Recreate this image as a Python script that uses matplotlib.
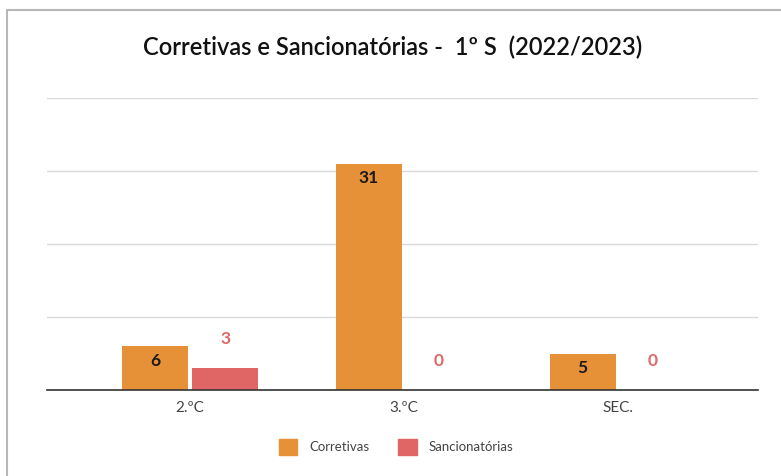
import matplotlib.pyplot as plt
import numpy as np
from matplotlib.patches import Rectangle, Patch

# ── Data ──────────────────────────────────────────────
categories    = ["2.ºC", "3.ºC", "SEC."]
corretivas    = [6, 31, 5]
sancionatorias = [3, 0, 0]
title = "Corretivas e Sancionatórias -  1º S  (2022/2023)"

ORANGE = "#e69138"
RED    = "#e06666"

plt.rcParams["font.family"] = ["Lato", "DejaVu Sans"]

fig = plt.figure(figsize=(7.81, 4.76), dpi=100)
W, H = 781, 476

# outer border (open on right/bottom, like the crop)
fig.patches.append(Rectangle((7 / W, -0.2), 1.2, 1.2 - 10 / H, transform=fig.transFigure,
                             fill=False, edgecolor="#b7b7b7", linewidth=1.5))

ax = fig.add_axes([47 / W, 1 - 390 / H, 711 / W, 292 / H])

x = np.arange(len(categories))
width = 0.308
off = 0.164

b1 = ax.bar(x - off, corretivas, width, color=ORANGE, zorder=3)
b2 = ax.bar(x + off, sancionatorias, width, color=RED, zorder=3)

for bar, v in zip(b1, corretivas):
    ax.text(bar.get_x() + bar.get_width() / 2, v - 0.9, f"{v}",
            ha="center", va="top", fontsize=12.5, fontweight="bold", color="#1a1a1a", zorder=4)
for bar, v in zip(b2, sancionatorias):
    ax.text(bar.get_x() + bar.get_width() / 2, v + 2.9, f"{v}",
            ha="center", va="bottom", fontsize=12.5, fontweight="bold", color=RED, zorder=4)

ax.set_xlim(-0.668, 2.655)
ax.set_ylim(0, 40)
ax.set_yticks([0, 10, 20, 30, 40])
ax.tick_params(axis="y", length=0, labelleft=False)
ax.grid(True, axis="y", color="#d9d9d9", linewidth=1, zorder=0)
ax.set_xticks(x)
ax.set_xticklabels(categories, fontsize=11, color="#444444")
ax.tick_params(axis="x", length=0, pad=8)
for s in ["top", "right", "left"]:
    ax.spines[s].set_visible(False)
ax.spines["bottom"].set_color("#333333")
ax.spines["bottom"].set_linewidth(1.2)
ax.spines["bottom"].set_zorder(5)

fig.text(393 / W, 1 - 47 / H, title, ha="center", va="center", fontsize=17,
         fontweight="semibold", color="#111111")

handles = [Patch(color=ORANGE, label="Corretivas"), Patch(color=RED, label="Sancionatórias")]
fig.legend(handles=handles, loc="center", bbox_to_anchor=(396 / W, 1 - 447 / H), ncol=2,
           frameon=False, fontsize=9.5, handlelength=1.4, handleheight=1.4,
           handletextpad=0.9, columnspacing=2.2, labelcolor="#444444")

plt.savefig("out.png", dpi=100)
